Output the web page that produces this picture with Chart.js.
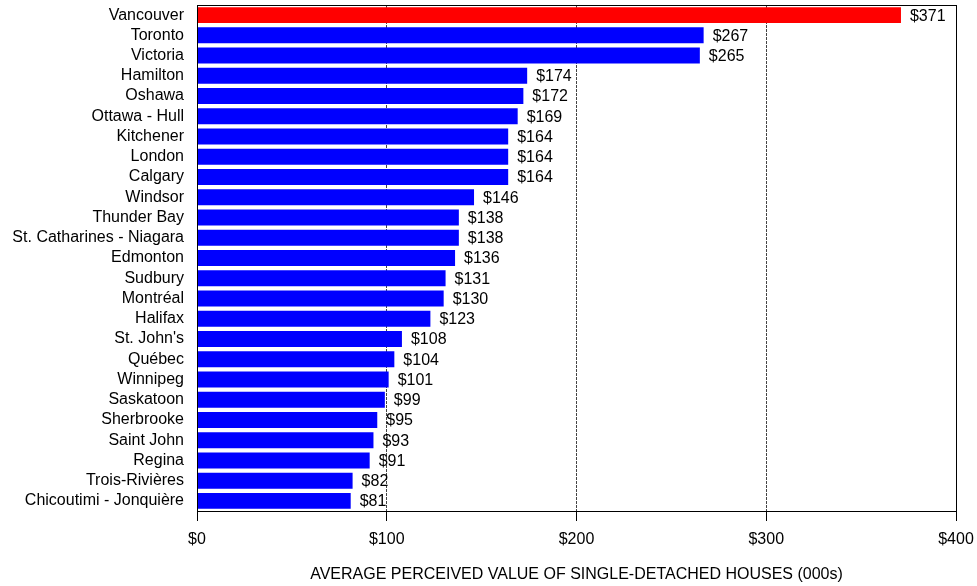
<!DOCTYPE html>
<html>
<head>
<meta charset="utf-8">
<script src="https://cdn.jsdelivr.net/npm/chart.js@4/dist/chart.umd.min.js"></script>
<style>
  html, body { margin: 0; padding: 0; background: #fff; }
  #wrap { width: 977px; height: 586px; }
</style>
</head>
<body>
<div id="wrap"><canvas id="chart" width="977" height="586"></canvas></div>
<script>
(function () {
  'use strict';

  const cities = [
    'Vancouver', 'Toronto', 'Victoria', 'Hamilton', 'Oshawa', 'Ottawa - Hull',
    'Kitchener', 'London', 'Calgary', 'Windsor', 'Thunder Bay',
    'St. Catharines - Niagara', 'Edmonton', 'Sudbury', 'Montréal', 'Halifax',
    "St. John's", 'Québec', 'Winnipeg', 'Saskatoon', 'Sherbrooke',
    'Saint John', 'Regina', 'Trois-Rivières', 'Chicoutimi - Jonquière',
  ];
  const values = [
    371, 267, 265, 174, 172, 169, 164, 164, 164, 146, 138, 138, 136,
    131, 130, 123, 108, 104, 101, 99, 95, 93, 91, 82, 81,
  ];
  const xTicks = [0, 100, 200, 300, 400];

  const font = { family: 'Arial, "Liberation Sans", sans-serif', size: 16 };

  // value labels to the right of each bar
  const valueLabels = {
    id: 'valueLabels',
    afterDatasetsDraw(chart) {
      const ctx = chart.ctx;
      const meta = chart.getDatasetMeta(0);
      ctx.save();
      ctx.font = '16px Arial, "Liberation Sans", sans-serif';
      ctx.fillStyle = '#000';
      ctx.textAlign = 'left';
      ctx.textBaseline = 'middle';
      meta.data.forEach((bar, i) => {
        ctx.fillText('$' + values[i], bar.x + 9, bar.y + 1);
      });
      ctx.restore();
    },
  };

  // solid frame round the plot area
  const frame = {
    id: 'frame',
    afterDatasetsDraw(chart) {
      const a = chart.chartArea;
      const ctx = chart.ctx;
      ctx.save();
      ctx.strokeStyle = '#000';
      ctx.lineWidth = 1;
      ctx.strokeRect(Math.round(a.left) + 0.5, Math.round(a.top) + 0.5,
        Math.round(a.right - a.left), Math.round(a.bottom - a.top));
      ctx.restore();
    },
  };

  new Chart(document.getElementById('chart'), {
    type: 'bar',
    data: {
      labels: cities,
      datasets: [{
        data: values,
        backgroundColor: values.map((v, i) => i === 0 ? '#ff0000' : '#0000ff'),
        borderWidth: 0,
        barPercentage: 0.79,
        categoryPercentage: 1,
      }],
    },
    options: {
      indexAxis: 'y',
      responsive: false,
      animation: false,
      layout: { padding: { top: 5, right: 21, left: 0, bottom: 0 } },
      plugins: { legend: { display: false }, tooltip: { enabled: false } },
      scales: {
        x: {
          min: 0,
          max: 400,
          afterBuildTicks(axis) { axis.ticks = xTicks.map(v => ({ value: v })); },
          afterFit(axis) {
            axis.height = 75;
            axis.paddingLeft = 0;
            axis.paddingRight = 0;
          },
          grid: {
            color: '#444',
            lineWidth: 1,
            tickLength: 10,
            tickColor: '#000',
            tickBorderDash: [],
          },
          border: { display: true, color: '#000', dash: [3, 1] },
          ticks: {
            color: '#000',
            font,
            padding: 9,
            maxRotation: 0,
            callback: v => '$' + v,
          },
          title: {
            display: true,
            text: 'AVERAGE PERCEIVED VALUE OF SINGLE-DETACHED HOUSES (000s)',
            color: '#000',
            font,
            padding: { top: 0, bottom: 2 },
          },
        },
        y: {
          afterFit(axis) {
            axis.width = 197;
            axis.paddingTop = 0;
            axis.paddingBottom = 0;
          },
          grid: { display: false, drawTicks: false },
          border: { display: true, color: '#000' },
          ticks: { color: '#000', font, padding: 13, autoSkip: false },
        },
      },
    },
    plugins: [valueLabels, frame],
  });
})();
</script>
</body>
</html>
